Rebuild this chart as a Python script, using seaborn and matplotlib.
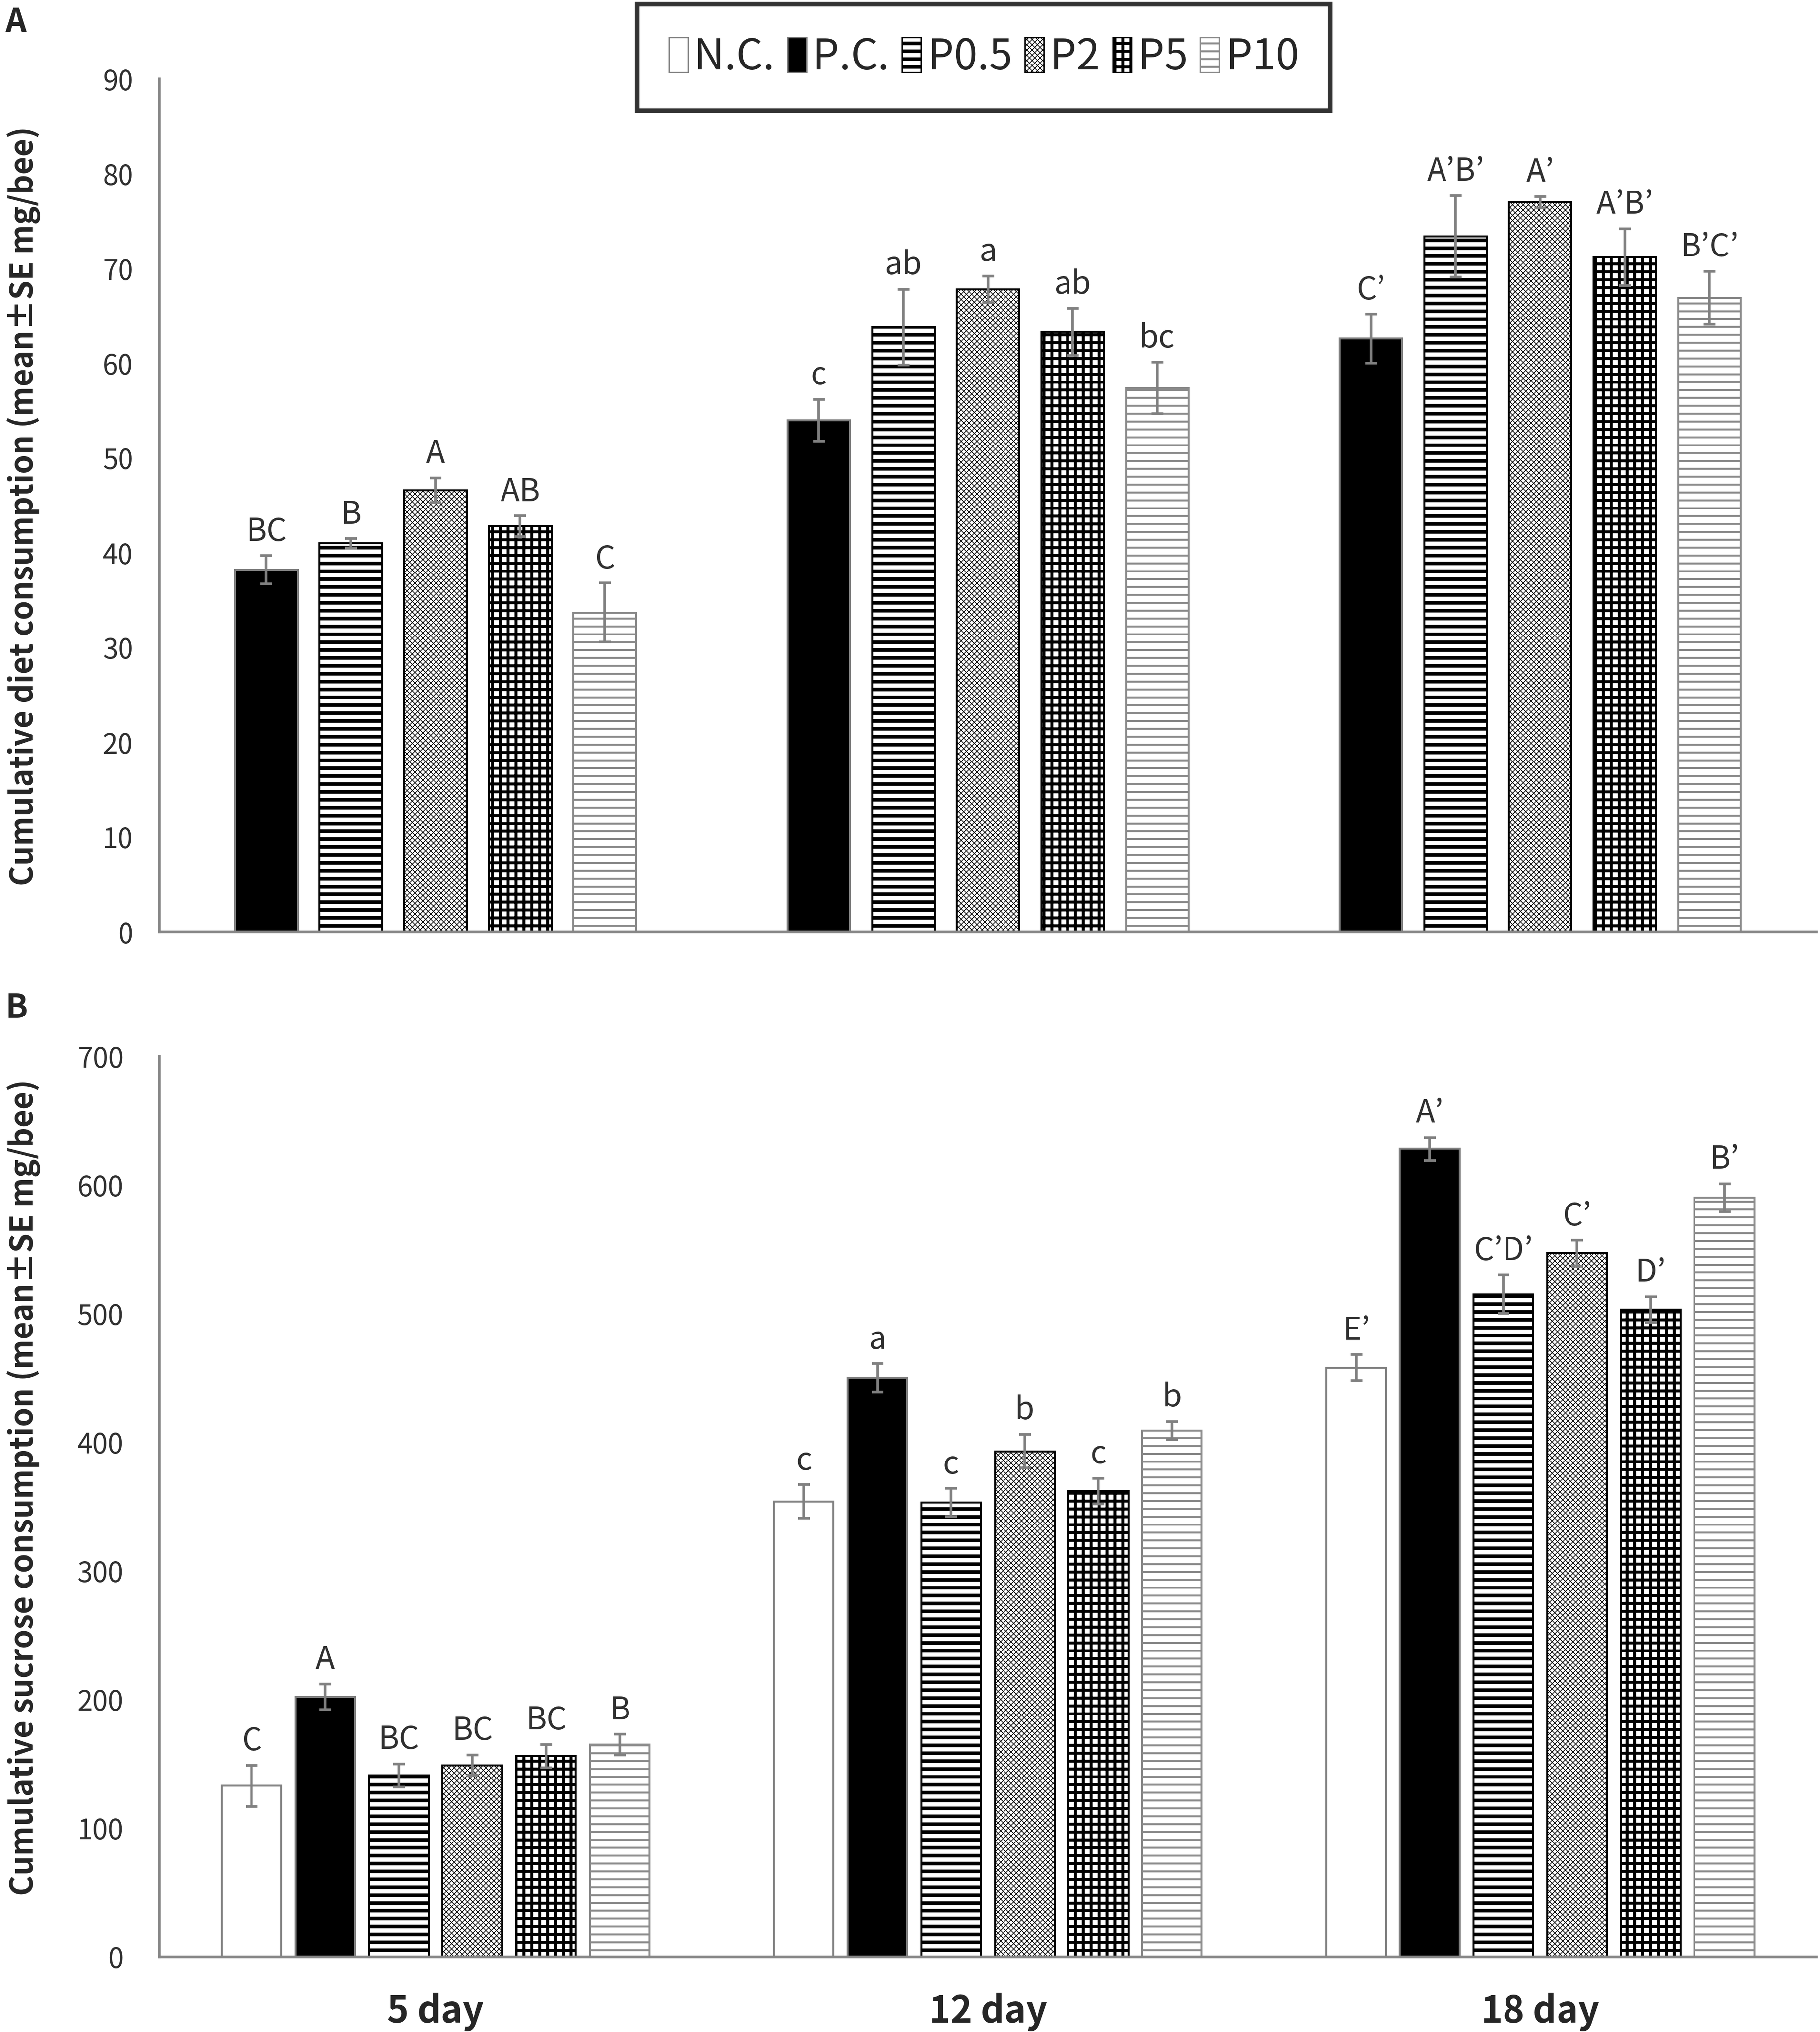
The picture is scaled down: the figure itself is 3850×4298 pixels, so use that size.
import numpy as np
import pandas as pd
import seaborn as sns
import matplotlib.pyplot as plt
from matplotlib.patches import Patch

### Seaborn customisation ###
sns.set_theme(style="white")
plt.rcParams['font.family'] = ['Liberation Sans Narrow', 'Noto Sans CJK KR', 'DejaVu Sans']
plt.rcParams['hatch.linewidth'] = 3.5

### Data ###
days = ["5 day", "12 day", "18 day"]
treatments = ["N.C.", "P.C.", "P0.5", "P2", "P5", "P10"]

# panel A: diet consumption (no N.C. group)
diet_groups = ["P.C.", "P0.5", "P2", "P5", "P10"]
diet_5 = [38.2, 41.0, 46.6, 42.8, 33.7]
diet_12 = [54.0, 63.8, 67.8, 63.3, 57.4]
diet_18 = [62.6, 73.4, 77.0, 71.2, 66.9]
diet_se_5 = [1.5, 0.5, 1.3, 1.1, 3.1]
diet_se_12 = [2.2, 4.0, 1.4, 2.5, 2.7]
diet_se_18 = [2.6, 4.3, 0.6, 3.0, 2.8]
diet_let_5 = ["BC", "B", "A", "AB", "C"]
diet_let_12 = ["c", "ab", "a", "ab", "bc"]
diet_let_18 = ["C\u2019", "A\u2019B\u2019", "A\u2019", "A\u2019B\u2019", "B\u2019C\u2019"]

# panel B: sucrose consumption
suc_5 = [133, 202, 141, 149, 156, 165]
suc_12 = [354, 450, 353, 393, 362, 409]
suc_18 = [458, 628, 515, 547, 503, 590]
suc_se_5 = [16, 10, 9, 8, 9, 8]
suc_se_12 = [13, 11, 11, 13, 10, 7]
suc_se_18 = [10, 9, 15, 10, 10, 11]
suc_let_5 = ["C", "A", "BC", "BC", "BC", "B"]
suc_let_12 = ["c", "a", "c", "b", "c", "b"]
suc_let_18 = ["E\u2019", "A\u2019", "C\u2019D\u2019", "C\u2019", "D\u2019", "B\u2019"]


def make_df(groups, vals, ses, lets):
    rows = []
    for d, v, s, l in zip(days, vals, ses, lets):
        for g, vv, ss, ll in zip(groups, v, s, l):
            rows.append({"day": d, "treatment": g, "value": vv, "se": ss, "letter": ll})
    return pd.DataFrame(rows)


diet_df = make_df(diet_groups, [diet_5, diet_12, diet_18],
                  [diet_se_5, diet_se_12, diet_se_18], [diet_let_5, diet_let_12, diet_let_18])
suc_df = make_df(treatments, [suc_5, suc_12, suc_18],
                 [suc_se_5, suc_se_12, suc_se_18], [suc_let_5, suc_let_12, suc_let_18])

### Bar styles ###
face = {"N.C.": "white", "P.C.": "black", "P0.5": "white", "P2": "white", "P5": "white", "P10": "white"}
edge = {"N.C.": "#7f7f7f", "P.C.": "#7f7f7f", "P0.5": "black", "P2": "black", "P5": "black", "P10": "#8a8a8a"}
hatch = {"N.C.": "", "P.C.": "", "P0.5": "-", "P2": "xxx", "P5": "+", "P10": "-"}
hatch_lw = {"N.C.": 1, "P.C.": 1, "P0.5": 5.5, "P2": 1.1, "P5": 4.5, "P10": 3.0}


def style_patch(p, t):
    p.set_facecolor(face[t])
    p.set_edgecolor(edge[t])
    p.set_hatch(hatch[t])
    if hasattr(p, "set_hatch_linewidth"):
        p.set_hatch_linewidth(hatch_lw[t])
    else:
        p._hatch_linewidth = hatch_lw[t]


def draw_panel(ax, df, groups, width, gap, label_pad):
    sns.barplot(data=df, x="day", y="value", hue="treatment", order=days, hue_order=groups,
                palette=[face[g] for g in groups], saturation=1, width=width, gap=gap,
                edgecolor="#7f7f7f", linewidth=3, errorbar=None, legend=False, ax=ax)
    for cont, g in zip(ax.containers, groups):
        sub = df[df["treatment"] == g]
        for bar, (_, r) in zip(cont, sub.iterrows()):
            style_patch(bar, g)
            x = bar.get_x() + bar.get_width() / 2
            h = bar.get_height()
            ax.errorbar(x, h, yerr=r["se"], fmt="none", ecolor="#808080",
                        elinewidth=4, capsize=9, capthick=4, zorder=5)
            ax.annotate(r["letter"], (x, h + r["se"]), xytext=(0, 12), textcoords="offset points",
                        ha="center", va="bottom", fontsize=48, color="#303030")
    ax.set_xlim(-0.5, 2.5)
    ax.set_xlabel("")
    ax.set_ylabel("")
    sns.despine(ax=ax)
    for s in ["left", "bottom"]:
        ax.spines[s].set_color("#868686")
        ax.spines[s].set_linewidth(4)
    ax.tick_params(axis="y", length=0, labelsize=42, pad=label_pad, labelcolor="#303030")
    ax.tick_params(axis="x", length=0)


fig = plt.figure(figsize=(38.5, 42.98), dpi=100)
axA = fig.add_axes([0.0876, 0.5414, 0.9104, 0.4197])
axB = fig.add_axes([0.0876, 0.0370, 0.9104, 0.4432])

draw_panel(axA, diet_df, diet_groups, 0.766, 0.26, 40)
axA.set_ylim(0, 90)
axA.set_yticks(np.arange(0, 91, 10))
axA.set_xticklabels([])

draw_panel(axB, suc_df, treatments, 0.8, 0.19, 55)
axB.set_ylim(0, 700)
axB.set_yticks(np.arange(0, 701, 100))
axB.tick_params(axis="x", labelsize=56, pad=55)
for lab in axB.get_xticklabels():
    lab.set_fontweight("bold")

### Axis titles and panel letters ###
fig.text(0.013, 0.751, "Cumulative diet consumption (mean\u00b1SE mg/bee)", rotation=90,
         ha="center", va="center", fontsize=47, fontweight="bold")
fig.text(0.013, 0.268, "Cumulative sucrose consumption (mean\u00b1SE mg/bee)", rotation=90,
         ha="center", va="center", fontsize=47, fontweight="bold")
fig.text(0.003, 0.997, "A", ha="left", va="top", fontsize=50, fontweight="bold")
fig.text(0.003, 0.512, "B", ha="left", va="top", fontsize=50, fontweight="bold")

### Legend ###
handles = [Patch(facecolor=face[t], edgecolor=edge[t], hatch=hatch[t], linewidth=2) for t in treatments]
leg = fig.legend(handles, treatments, loc="upper center", bbox_to_anchor=(0.5406, 0.998), ncol=6,
                 fontsize=64, frameon=True, fancybox=False, edgecolor="black",
                 handlelength=0.45, handleheight=0.9, handletextpad=0.15, columnspacing=0.3,
                 borderpad=0.75, borderaxespad=0)
leg.get_frame().set_linewidth(7)
for h, t in zip(leg.legend_handles, treatments):
    style_patch(h, t)

fig.savefig("out.png", dpi=100)
